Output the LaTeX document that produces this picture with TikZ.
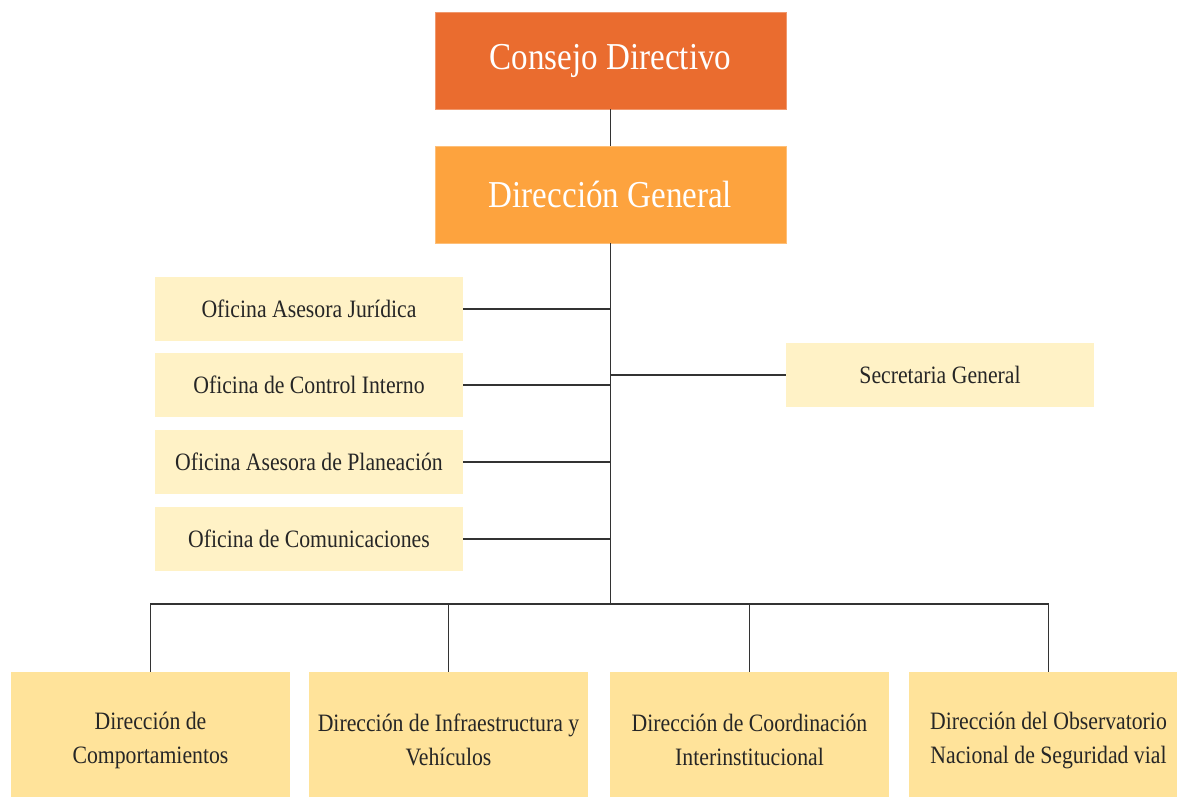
\documentclass[tikz,border=0pt]{standalone}
\usepackage{fontspec}
\setmainfont{Liberation Serif}[FakeStretch=0.87]
\usetikzlibrary{positioning}
\definecolor{consejo}{HTML}{EA6C2F}
\definecolor{general}{HTML}{FDA33E}
\definecolor{oficina}{HTML}{FFF2C6}
\definecolor{direc}{HTML}{FFE39A}
\definecolor{linea}{HTML}{333333}
\tikzset{
  topbox/.style={minimum width=351pt, minimum height=97pt, inner sep=0pt,
    text=white, font=\fontsize{38}{40}\selectfont},
  ofbox/.style={fill=oficina, minimum width=308pt, minimum height=64pt,
    inner sep=0pt, text=black!85, font=\fontsize{25}{30}\selectfont},
  dirbox/.style={fill=direc, minimum width=279pt, minimum height=136pt,
    inner sep=0pt, align=center, text=black!85,
    font=\fontsize{25}{34}\selectfont},
  org/.style={draw=linea, line width=1.3pt}
}

\begin{document}
\begin{tikzpicture}[x=1pt, y=-1pt]
      \useasboundingbox [fill=white] (0, 0) rectangle (1177, 796);

      \node [topbox, fill=consejo, draw=consejo!70!white] (cd) at (610.5, 60.5) {Consejo Directivo};
      \node [topbox, fill=general, draw=general!70!white] (dg) at (610.5, 194.5) {Dirección General};

      \node [ofbox] (oaj) at (309, 309) {Oficina Asesora Jurídica};
      \node [ofbox] (oci) at (309, 385) {Oficina de Control Interno};
      \node [ofbox] (oap) at (309, 462) {Oficina Asesora de Planeación};
      \node [ofbox] (oc) at (309, 539) {Oficina de Comunicaciones};
      \node [ofbox] (sg) at (940, 375) {Secretaria General};

      \node [dirbox] (dc) at (150.5, 740) {Dirección de\\Comportamientos};
      \node [dirbox] (div) at (448.5, 740) {Dirección de Infraestructura y\\Vehículos};
      \node [dirbox] (dci) at (749.5, 740) {Dirección de Coordinación\\Interinstitucional};
      \node [dirbox] (dos) at (1048.5, 740) {Dirección del Observatorio\\Nacional de Seguridad vial};

      \coordinate (bus) at (610.5, 604);

      \draw [org] (cd) -- (dg);
      \draw [org] (dg.south) -- (bus);
      \foreach \n in {oaj, oci, oap, oc}
        \draw [org] (\n.east) -- (\n.east -| dg.south);
      \draw [org] (sg.west) -- (sg.west -| dg.south);
      \draw [org] (dc.north) |- (bus) -| (dos.north);
      \foreach \n in {div, dci}
        \draw [org] (\n.north) -- (\n.north |- bus);
    \end{tikzpicture}
\end{document}
